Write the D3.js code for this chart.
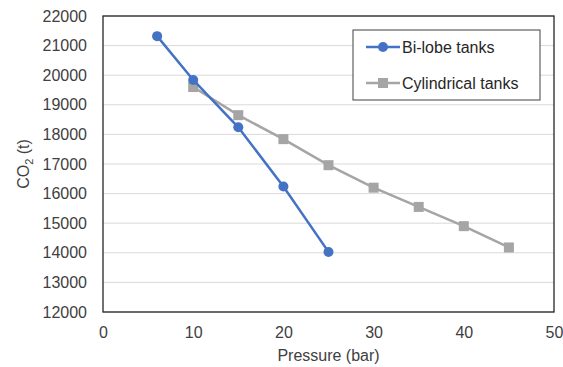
<!DOCTYPE html>
<html>
<head>
<meta charset="utf-8">
<script src="https://cdn.jsdelivr.net/npm/d3@7"></script>
<style>
  body { margin: 0; background: #fff; }
  text { font-family: "Liberation Sans", Arial, sans-serif; }
</style>
</head>
<body>
<svg id="chart" width="563" height="367"></svg>
<script>
// data
const biLobeP = [6, 10, 15, 20, 25];
const biLobeCO2 = [21320, 19840, 18240, 16240, 14030];
const cylP = [10, 15, 20, 25, 30, 35, 40, 45];
const cylCO2 = [19600, 18650, 17840, 16960, 16200, 15550, 14900, 14180];
const xTicks = [0, 10, 20, 30, 40, 50];
const yTicks = [12000, 13000, 14000, 15000, 16000, 17000, 18000, 19000, 20000, 21000, 22000];
const seriesNames = ["Bi-lobe tanks", "Cylindrical tanks"];

const margin = {left: 103, top: 16, right: 9, bottom: 55};
const W = 563, H = 367;
const fs = 16;

const svg = d3.select("#chart");

const x = d3.scaleLinear().domain([0, 50]).range([margin.left, W - margin.right]);
const y = d3.scaleLinear().domain([12000, 22000]).range([H - margin.bottom, margin.top]);

// gridlines
svg.append("g")
    .selectAll("line")
    .data(yTicks)
    .enter()
    .append("line")
    .attr("x1", x(0))
    .attr("x2", x(50))
    .attr("y1", d => y(d))
    .attr("y2", d => y(d))
    .attr("stroke", "#d9d9d9")
    .attr("stroke-width", 1);

// plot frame
svg.append("rect")
    .attr("x", x(0))
    .attr("y", y(22000))
    .attr("width", x(50) - x(0))
    .attr("height", y(12000) - y(22000))
    .attr("fill", "none")
    .attr("stroke", "#262626")
    .attr("stroke-width", 1.3);

// axes
const yAxis = svg.append("g")
    .attr("transform", `translate(${x(0)},0)`)
    .call(d3.axisLeft(y).tickValues(yTicks).tickSize(0).tickPadding(16).tickFormat(d3.format("d")));
yAxis.select(".domain").remove();
yAxis.selectAll("text").attr("font-size", fs).attr("fill", "#404040");

const xAxis = svg.append("g")
    .attr("transform", `translate(0,${y(12000)})`)
    .call(d3.axisBottom(x).tickValues(xTicks).tickSize(0).tickPadding(15));
xAxis.select(".domain").remove();
xAxis.selectAll("text").attr("font-size", fs).attr("fill", "#404040");

// axis titles
svg.append("text")
    .attr("x", (x(0) + x(50)) / 2)
    .attr("y", 361)
    .attr("text-anchor", "middle")
    .attr("font-size", fs)
    .attr("fill", "#404040")
    .text("Pressure (bar)");

const yt = svg.append("text")
    .attr("transform", `translate(29,${(y(12000) + y(22000)) / 2}) rotate(-90)`)
    .attr("text-anchor", "middle")
    .attr("font-size", fs)
    .attr("fill", "#404040");
yt.append("tspan").text("CO");
yt.append("tspan").attr("font-size", 11).attr("dy", 4).text("2");
yt.append("tspan").attr("dy", -4).text(" (t)");

const line = d3.line().x(d => x(d[0])).y(d => y(d[1]));

const cyl = d3.zip(cylP, cylCO2);
const bi = d3.zip(biLobeP, biLobeCO2);

// cylindrical series
svg.append("path")
    .datum(cyl)
    .attr("d", line)
    .attr("fill", "none")
    .attr("stroke", "#a5a5a5")
    .attr("stroke-width", 2.5);
svg.append("g")
    .selectAll("rect")
    .data(cyl)
    .enter()
    .append("rect")
    .attr("x", d => x(d[0]) - 5)
    .attr("y", d => y(d[1]) - 5)
    .attr("width", 10)
    .attr("height", 10)
    .attr("fill", "#a5a5a5");

// bi-lobe series
svg.append("path")
    .datum(bi)
    .attr("d", line)
    .attr("fill", "none")
    .attr("stroke", "#4472c4")
    .attr("stroke-width", 2.5);
svg.append("g")
    .selectAll("circle")
    .data(bi)
    .enter()
    .append("circle")
    .attr("cx", d => x(d[0]))
    .attr("cy", d => y(d[1]))
    .attr("r", 5)
    .attr("fill", "#4472c4");

// legend
const lg = svg.append("g").attr("transform", "translate(353,30)");
lg.append("rect")
    .attr("width", 187)
    .attr("height", 70)
    .attr("fill", "#fff")
    .attr("stroke", "#404040")
    .attr("stroke-width", 1);
const colors = ["#4472c4", "#a5a5a5"];
seriesNames.forEach((name, i) => {
    const cy = 17 + i * 36;
    lg.append("line")
        .attr("x1", 13).attr("x2", 47)
        .attr("y1", cy).attr("y2", cy)
        .attr("stroke", colors[i])
        .attr("stroke-width", 2.5);
    if (i === 0) {
        lg.append("circle").attr("cx", 30).attr("cy", cy).attr("r", 5).attr("fill", colors[i]);
    } else {
        lg.append("rect").attr("x", 25).attr("y", cy - 5).attr("width", 10).attr("height", 10).attr("fill", colors[i]);
    }
    lg.append("text")
        .attr("x", 49)
        .attr("y", cy + 5.5)
        .attr("font-size", fs)
        .attr("fill", "#262626")
        .text(name);
});
</script>
</body>
</html>
